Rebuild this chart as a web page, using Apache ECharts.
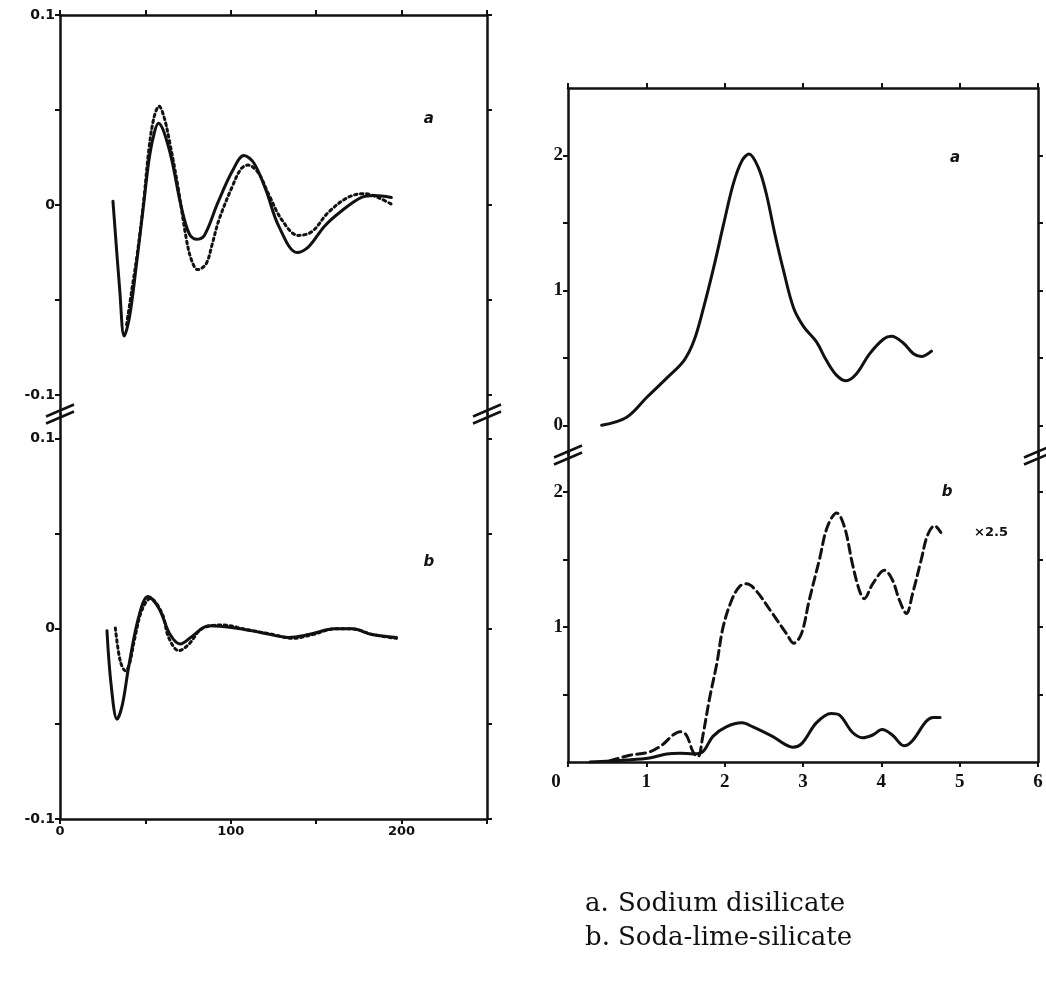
<!DOCTYPE html>
<html>
<head>
<meta charset="utf-8">
<script src="https://cdn.jsdelivr.net/npm/echarts@6/dist/echarts.min.js"></script>
<style>
html,body{margin:0;padding:0;background:#fff;}
#c{width:1046px;height:987px;}
</style>
</head>
<body>
<div id="c"></div>
<script>
// ---- Left chart, panel a (Sodium disilicate) ----
var leftASolidX = [31, 35, 37.6, 40.7, 44.8, 48.8, 52.3, 55.2, 57.6, 64, 71, 75.6, 79.7, 84.5, 92.3, 101, 107.7, 113.6, 120.5, 128, 138.8, 145.5, 155, 165, 176.5, 184, 194];
var leftASolidY = [0.002, -0.045, -0.069, -0.059, -0.031, -0.001, 0.025, 0.038, 0.043, 0.029, -0.001, -0.015, -0.018, -0.016, 0.001, 0.018, 0.026, 0.022, 0.008, -0.011, -0.025, -0.022, -0.011, -0.003, 0.004, 0.005, 0.004];
var leftADotX = [39, 42, 45.5, 49, 52, 55, 58, 61, 64, 69, 74, 77, 80.6, 85.5, 89, 93, 101, 106, 110, 116, 122, 130, 139.5, 147.5, 157, 168.6, 178.5, 186, 195];
var leftADotY = [-0.063, -0.045, -0.024, 0.002, 0.029, 0.046, 0.052, 0.046, 0.034, 0.010, -0.018, -0.029, -0.034, -0.031, -0.021, -0.008, 0.010, 0.019, 0.021, 0.017, 0.006, -0.008, -0.016, -0.014, -0.004, 0.004, 0.006, 0.004, 0.000];
// ---- Left chart, panel b (Soda-lime-silicate) ----
var leftBSolidX = [27.5, 30, 33.4, 36.5, 40.2, 46, 51.5, 57.8, 64.5, 70.4, 77.3, 87, 102.5, 118, 134, 145.6, 161, 171, 182.7, 197];
var leftBSolidY = [-0.001, -0.03, -0.0475, -0.04, -0.020, 0.006, 0.017, 0.011, -0.003, -0.008, -0.004, 0.0016, 0.0005, -0.002, -0.0045, -0.003, 0, 0, -0.003, -0.0045];
var leftBDotX = [32.4, 35.3, 38.3, 40.5, 44, 48, 52.9, 59.8, 63.6, 69.6, 75.5, 83, 95, 110, 125, 136, 148, 161, 171, 183, 197];
var leftBDotY = [0.0005, -0.017, -0.022, -0.019, -0.004, 0.010, 0.016, 0.008, -0.0045, -0.0115, -0.008, 0, 0.002, -0.0005, -0.003, -0.005, -0.003, 0, 0, -0.003, -0.005];
// ---- Right chart, panel a ----
var rightASolidX = [0.43, 0.75, 1.01, 1.26, 1.48, 1.61, 1.73, 1.86, 1.99, 2.11, 2.22, 2.31, 2.43, 2.53, 2.64, 2.75, 2.88, 3.01, 3.17, 3.30, 3.43, 3.55, 3.68, 3.85, 4.03, 4.13, 4.28, 4.41, 4.51, 4.64];
var rightASolidY = [0.0, 0.06, 0.21, 0.35, 0.48, 0.63, 0.87, 1.17, 1.50, 1.79, 1.96, 2.01, 1.91, 1.72, 1.42, 1.15, 0.87, 0.73, 0.62, 0.48, 0.37, 0.33, 0.38, 0.53, 0.64, 0.66, 0.61, 0.53, 0.51, 0.55];
// ---- Right chart, panel b ----
var rightBDashX = [0.53, 0.79, 1.04, 1.21, 1.34, 1.43, 1.51, 1.60, 1.66, 1.72, 1.81, 1.90, 1.98, 2.09, 2.19, 2.28, 2.40, 2.61, 2.79, 2.88, 2.98, 3.08, 3.21, 3.31, 3.43, 3.53, 3.63, 3.72, 3.78, 3.89, 4.04, 4.14, 4.23, 4.32, 4.40, 4.51, 4.59, 4.68, 4.76];
var rightBDashY = [0.007, 0.05, 0.075, 0.13, 0.20, 0.225, 0.20, 0.07, 0.04, 0.19, 0.48, 0.73, 1.00, 1.20, 1.30, 1.32, 1.27, 1.10, 0.95, 0.88, 0.95, 1.20, 1.50, 1.74, 1.845, 1.74, 1.47, 1.27, 1.21, 1.32, 1.42, 1.35, 1.20, 1.10, 1.25, 1.50, 1.68, 1.75, 1.70];
var rightBSolidX = [0.28, 0.75, 1.04, 1.26, 1.43, 1.60, 1.72, 1.85, 2.02, 2.22, 2.36, 2.61, 2.87, 2.99, 3.17, 3.36, 3.46, 3.63, 3.76, 3.89, 4.01, 4.14, 4.29, 4.40, 4.57, 4.66, 4.75];
var rightBSolidY = [0.0, 0.015, 0.03, 0.06, 0.065, 0.06, 0.075, 0.19, 0.26, 0.29, 0.26, 0.19, 0.11, 0.14, 0.29, 0.36, 0.35, 0.22, 0.18, 0.2, 0.24, 0.2, 0.12, 0.16, 0.30, 0.33, 0.33];

// tick labels
var leftYTicks = [-0.1, -0.05, 0, 0.05, 0.1];
var leftYLabels = [-0.1, 0, 0.1];
var leftXLabels = [0, 100, 200];
var rightATicks = [0, 0.5, 1, 1.5, 2];
var rightALabels = [0, 1, 2];
var rightBTicks = [0.5, 1, 1.5, 2];
var rightBLabels = [1, 2];
var rightXLabels = [0, 1, 2, 3, 4, 5, 6];
var captions = [['a.', 'Sodium disilicate'], ['b.', 'Soda-lime-silicate']];

function pairs(xs, ys) { return xs.map(function (x, i) { return [x, ys[i]]; }); }

var chart = echarts.init(document.getElementById('c'));
var black = '#111';
var axLine = { show: true, onZero: false, lineStyle: { color: black, width: 2.5 } };
var tick = function (vals) { var t = { show: true, inside: false, length: 5, lineStyle: { color: black, width: 2 } }; if (vals) t.customValues = vals; return t; };
var sansLab = { color: black, fontFamily: 'DejaVu Sans', fontWeight: 'bold', fontSize: 14 };
var sansLabX = { color: black, fontFamily: 'DejaVu Sans', fontWeight: 'bold', fontSize: 13 };
var serifLab = { color: black, fontFamily: 'Liberation Serif', fontWeight: 'bold', fontSize: 19 };
function lfmt(v) { return v === 0 ? '0' : (v > 0 ? '0.1' : '-0.1'); }

var grids = [
  { left: 60, width: 427, top: 15, height: 399 },
  { left: 60, width: 427, top: 414, height: 405 },
  { left: 568, width: 470, top: 88, height: 367 },
  { left: 568, width: 470, top: 451.5, height: 310.5 }
];

var xAxes = [
  { gridIndex: 0, type: 'value', position: 'top', min: 0, max: 250, interval: 50, axisLine: axLine, axisTick: tick(), axisLabel: { show: false }, splitLine: { show: false } },
  { gridIndex: 1, type: 'value', position: 'bottom', min: 0, max: 250, interval: 50, axisLine: axLine, axisTick: tick(), axisLabel: Object.assign({ customValues: leftXLabels, margin: 6 }, sansLabX), splitLine: { show: false } },
  { gridIndex: 2, type: 'value', position: 'top', min: 0, max: 6, interval: 1, axisLine: axLine, axisTick: tick(), axisLabel: { show: false }, splitLine: { show: false } },
  { gridIndex: 3, type: 'value', position: 'bottom', min: 0, max: 6, interval: 1, axisLine: axLine, axisTick: tick(), axisLabel: Object.assign({ customValues: rightXLabels, margin: 11, formatter: function (v) { return v === 0 ? '{z|0}' : String(v); }, rich: { z: { fontFamily: 'Liberation Serif', fontWeight: 'bold', fontSize: 19, color: black, padding: [0, 24, 0, 0] } } }, serifLab), splitLine: { show: false } }
];

var yAxes = [
  { gridIndex: 0, type: 'value', position: 'left', min: -0.11, max: 0.1, axisLine: axLine, axisTick: tick(leftYTicks), axisLabel: Object.assign({ customValues: leftYLabels, formatter: lfmt, margin: 5 }, sansLab), splitLine: { show: false } },
  { gridIndex: 0, type: 'value', position: 'right', min: -0.11, max: 0.1, axisLine: axLine, axisTick: tick(leftYTicks), axisLabel: { show: false }, splitLine: { show: false } },
  { gridIndex: 1, type: 'value', position: 'left', min: -0.1, max: 0.113, axisLine: axLine, axisTick: tick(leftYTicks), axisLabel: Object.assign({ customValues: leftYLabels, formatter: lfmt, margin: 5 }, sansLab), splitLine: { show: false } },
  { gridIndex: 1, type: 'value', position: 'right', min: -0.1, max: 0.113, axisLine: axLine, axisTick: tick(leftYTicks), axisLabel: { show: false }, splitLine: { show: false } },
  { gridIndex: 2, type: 'value', position: 'left', min: -0.22, max: 2.5, axisLine: axLine, axisTick: tick(rightATicks), axisLabel: Object.assign({ customValues: rightALabels, margin: 5 }, serifLab), splitLine: { show: false } },
  { gridIndex: 2, type: 'value', position: 'right', min: -0.22, max: 2.5, axisLine: axLine, axisTick: tick(rightATicks), axisLabel: { show: false }, splitLine: { show: false } },
  { gridIndex: 3, type: 'value', position: 'left', min: 0, max: 2.3, axisLine: axLine, axisTick: tick(rightBTicks), axisLabel: Object.assign({ customValues: rightBLabels, margin: 5 }, serifLab), splitLine: { show: false } },
  { gridIndex: 3, type: 'value', position: 'right', min: 0, max: 2.3, axisLine: axLine, axisTick: tick(rightBTicks), axisLabel: { show: false }, splitLine: { show: false } }
];

function line(name, xi, yi, data, type) {
  return {
    name: name, type: 'line', xAxisIndex: xi, yAxisIndex: yi, data: data,
    smooth: 0.35, showSymbol: false, symbol: 'none', silent: true, z: 5,
    lineStyle: { color: black, width: 3, type: type, cap: 'round' }
  };
}

var series = [
  line('a solid', 0, 0, pairs(leftASolidX, leftASolidY), 'solid'),
  line('a dotted', 0, 0, pairs(leftADotX, leftADotY), [2.5, 3.5]),
  line('b solid', 1, 2, pairs(leftBSolidX, leftBSolidY), 'solid'),
  line('b dotted', 1, 2, pairs(leftBDotX, leftBDotY), [2.5, 3.5]),
  line('a', 2, 4, pairs(rightASolidX, rightASolidY), 'solid'),
  line('b x2.5', 3, 6, pairs(rightBDashX, rightBDashY), [9, 5]),
  line('b', 3, 6, pairs(rightBSolidX, rightBSolidY), 'solid')
];

chart.setOption({
  animation: false,
  backgroundColor: '#fff',
  grid: grids,
  xAxis: xAxes,
  yAxis: yAxes,
  series: series
});

function px(gi, v) { return chart.convertToPixel({ gridIndex: gi }, v); }
var g = [];
var italic = { fontFamily: 'DejaVu Sans', fontStyle: 'italic', fontWeight: 'bold', fontSize: 15, fill: black };
function ann(gi, v, text, style) {
  var p = px(gi, v);
  g.push({ type: 'text', x: p[0], y: p[1], style: Object.assign({ text: text, align: 'center', verticalAlign: 'middle' }, style) });
}
ann(0, [216, 0.045], 'a', italic);
ann(1, [216, 0.035], 'b', italic);
ann(2, [4.94, 1.98], 'a', italic);
ann(3, [4.84, 2.0], 'b', italic);
ann(3, [5.4, 1.7], '\u00d72.5', { fontFamily: 'DejaVu Sans', fontWeight: 'bold', fontSize: 13, fill: black });

function brk(p) {
  [-3.5, 3.5].forEach(function (d) {
    g.push({ type: 'line', shape: { x1: p[0] - 14, y1: p[1] + 6 + d, x2: p[0] + 14, y2: p[1] - 6 + d }, style: { stroke: black, lineWidth: 2.5 }, z: 10 });
  });
}
brk(px(0, [0, -0.11]));
brk(px(0, [250, -0.11]));
brk(px(2, [0, -0.22]));
brk(px(2, [6, -0.22]));

captions.forEach(function (c, i) {
  var y = 904 + i * 34;
  g.push({ type: 'text', x: 585, y: y, style: { text: c[0], fontFamily: 'DejaVu Serif', fontSize: 26, fill: black, verticalAlign: 'middle' } });
  g.push({ type: 'text', x: 618, y: y, style: { text: c[1], fontFamily: 'DejaVu Serif', fontSize: 26, fill: black, verticalAlign: 'middle' } });
});

chart.setOption({ graphic: { elements: g } });
</script>
</body>
</html>
